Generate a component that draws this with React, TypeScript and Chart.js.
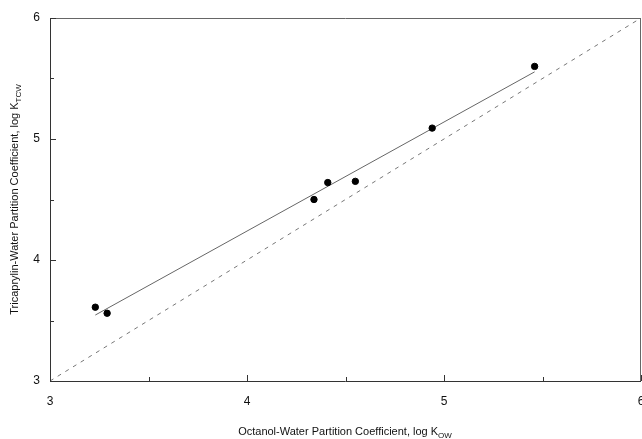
import React, { useEffect, useRef } from "react";
import { Chart, registerables } from "chart.js";

Chart.register(...registerables);

const logKow = [3.23, 3.29, 4.34, 4.41, 4.55, 4.94, 5.46];
const logKtcw = [3.61, 3.56, 4.5, 4.64, 4.65, 5.09, 5.6];
const fitX = [3.23, 5.46];
const fitY = [3.545, 5.555];
const identityX = [3, 6];
const identityY = [3, 6];
const majorTicks = [3, 4, 5, 6];
const minorTicks = [3.5, 4.5, 5.5];

const FONT = '"Liberation Sans", Arial, sans-serif';

const framePlugin = {
  id: "frame",
  afterDraw(chart: any) {
    const { ctx, chartArea, scales } = chart;
    const { left, right, top, bottom } = chartArea;
    const xs = scales.x;
    const ys = scales.y;
    ctx.save();
    ctx.strokeStyle = "#666";
    ctx.lineWidth = 1;
    ctx.beginPath();
    ctx.moveTo(left, top + 0.5);
    ctx.lineTo(right, top + 0.5);
    ctx.moveTo(right - 0.5, top);
    ctx.lineTo(right - 0.5, bottom);
    ctx.stroke();
    ctx.strokeStyle = "#333";
    ctx.beginPath();
    ctx.moveTo(left + 0.5, top);
    ctx.lineTo(left + 0.5, bottom);
    ctx.moveTo(left, bottom + 0.5);
    ctx.lineTo(right, bottom + 0.5);
    ctx.stroke();
    ctx.beginPath();
    for (const v of [...majorTicks, ...minorTicks]) {
      const len = majorTicks.includes(v) ? 6 : 4;
      const px = Math.round(xs.getPixelForValue(v)) + 0.5;
      ctx.moveTo(px, bottom);
      ctx.lineTo(px, bottom - len);
      const py = Math.round(ys.getPixelForValue(v)) + 0.5;
      ctx.moveTo(left, py);
      ctx.lineTo(left + len, py);
    }
    ctx.stroke();

    ctx.fillStyle = "#111";
    ctx.textBaseline = "alphabetic";
    const drawSub = (main: string, sub: string, cx: number, cy: number) => {
      ctx.font = `11px ${FONT}`;
      const w1 = ctx.measureText(main).width;
      ctx.font = `8px ${FONT}`;
      const w2 = ctx.measureText(sub).width;
      const start = cx - (w1 + w2) / 2;
      ctx.font = `11px ${FONT}`;
      ctx.textAlign = "left";
      ctx.fillText(main, start, cy);
      ctx.font = `8px ${FONT}`;
      ctx.fillText(sub, start + w1, cy + 3);
    };
    drawSub("Octanol-Water Partition Coefficient, log K", "OW", 345, 435);
    ctx.save();
    ctx.translate(18, (top + bottom) / 2);
    ctx.rotate(-Math.PI / 2);
    drawSub("Tricaprylin-Water Partition Coefficient, log K", "TCW", 0, 0);
    ctx.restore();
    ctx.restore();
  },
};

export default function App() {
  const ref = useRef<HTMLCanvasElement>(null);
  useEffect(() => {
    document.body.style.margin = "0";
    const canvas = ref.current!;
    const chart = new Chart(canvas, {
      type: "scatter",
      data: {
        datasets: [
          {
            label: "Measured",
            data: logKow.map((x, i) => ({ x, y: logKtcw[i] })),
            backgroundColor: "#000",
            borderColor: "#000",
            pointRadius: 3.2,
            pointStyle: "circle",
          },
          {
            label: "Fit",
            type: "line",
            data: fitX.map((x, i) => ({ x, y: fitY[i] })),
            borderColor: "#666",
            borderWidth: 1,
            pointRadius: 0,
            fill: false,
          },
          {
            label: "1:1",
            type: "line",
            data: identityX.map((x, i) => ({ x, y: identityY[i] })),
            borderColor: "#777",
            borderWidth: 1,
            borderDash: [4, 5],
            pointRadius: 0,
            fill: false,
          },
        ],
      },
      options: {
        responsive: false,
        animation: false,
        layout: { autoPadding: false, padding: { top: 18, right: 1, left: 0, bottom: 0 } },
        plugins: { legend: { display: false }, tooltip: { enabled: false } },
        scales: {
          x: {
            type: "linear",
            min: 3,
            max: 6,
            afterFit: (s: any) => {
              s.height = 58;
              s.paddingLeft = 0;
              s.paddingRight = 0;
            },
            afterBuildTicks: (s: any) => {
              s.ticks = majorTicks.map((v) => ({ value: v }));
            },
            grid: { display: false, drawTicks: false },
            border: { display: false },
            ticks: {
              padding: 13,
              color: "#111",
              font: { family: FONT, size: 12 },
            },
          },
          y: {
            type: "linear",
            min: 3,
            max: 6,
            afterFit: (s: any) => {
              s.width = 50;
              s.paddingTop = 0;
              s.paddingBottom = 0;
            },
            afterBuildTicks: (s: any) => {
              s.ticks = majorTicks.map((v) => ({ value: v }));
            },
            grid: { display: false, drawTicks: false },
            border: { display: false },
            ticks: {
              padding: 10,
              color: "#111",
              font: { family: FONT, size: 12 },
            },
          },
        },
      },
      plugins: [framePlugin],
    });
    return () => chart.destroy();
  }, []);
  return <canvas ref={ref} width={642} height={439} style={{ display: "block" }} />;
}
